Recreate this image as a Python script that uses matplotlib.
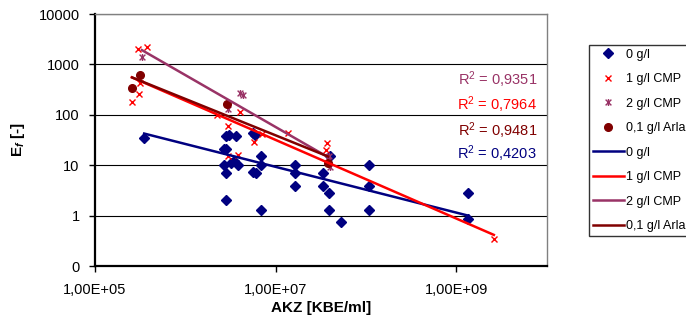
import numpy as np
import matplotlib.pyplot as plt
from matplotlib.path import Path
from matplotlib.ticker import FuncFormatter, NullLocator

plt.rcParams['font.family'] = ['Liberation Sans', 'DejaVu Sans']
plt.rcParams['mathtext.fontset'] = 'custom'
plt.rcParams['mathtext.rm'] = 'Liberation Sans'
plt.rcParams['mathtext.it'] = 'Liberation Sans:italic:bold'
plt.rcParams['mathtext.bf'] = 'Liberation Sans:bold'

# series: 0 g/l
x0 = [3.5e5, 2.8e6, 3.05e6, 3.64e6, 2.7e6, 2.8e6, 2.7e6, 2.8e6, 2.8e6, 3.2e6, 3.46e6,
      3.8e6, 5.6e6, 5.9e6, 5.6e6, 6.0e6, 6.9e6, 6.9e6, 6.9e6, 1.64e7, 1.64e7, 1.64e7,
      3.3e7, 3.3e7, 4.0e7, 3.9e7, 3.9e7, 5.3e7, 1.07e8, 1.07e8, 1.07e8, 1.35e9, 1.35e9]
y0 = [35, 38, 40, 38, 21, 21, 10, 7, 2, 11, 12,
      10, 43, 40, 7.4, 7, 15, 10, 1.3, 10, 7, 3.9,
      7, 3.9, 15, 2.75, 1.3, 0.76, 10, 3.9, 1.3, 2.75, 0.85]
# 1 g/l CMP
x1 = [2.55e5, 3.1e5, 2.97e5, 3.74e5, 3.15e5, 2.23e6, 3.0e6, 3.0e6, 3.87e6, 4.0e6,
      5.7e6, 7.0e6, 1.38e7, 3.7e7, 3.6e7, 2.6e9]
y1 = [178, 258, 2000, 2250, 435, 100, 60, 15, 16, 112,
      29, 42, 43, 27, 20, 0.34]
# 2 g/l CMP
x2 = [3.3e5, 2.94e6, 4.0e6, 4.3e6, 3.9e7, 4.0e7]
y2 = [1400, 128, 275, 245, 15, 9.3]
# 0,1 g/l Arla
x3 = [2.59e5, 3.15e5, 2.9e6, 3.8e7]
y3 = [340, 630, 162, 11]

names = ['0 g/l', '1 g/l CMP', '2 g/l CMP', '0,1 g/l Arla']
# power trendlines y = 10**loga * x**b
fit_loga = [4.145, 6.961, 8.974, 6.653]
fit_b = [-0.454, -0.78, -1.031, -0.723]
r2 = ['0,4203', '0,7964', '0,9351', '0,9481']

colors = ['#000080', '#FF0000', '#993366', '#800000']
star = Path([(-1, -1), (1, 1), (-1, 1), (1, -1), (0, -1.2), (0, 1.2)],
            [Path.MOVETO, Path.LINETO, Path.MOVETO, Path.LINETO, Path.MOVETO, Path.LINETO])

fig = plt.figure(figsize=(6.86, 3.25), dpi=100)
ax = fig.add_axes([95/686, 1-266/325, (546.7-95)/686, (266-14)/325])

xs = [x0, x1, x2, x3]
ys = [y0, y1, y2, y3]
mk = [dict(marker='D', ms=5, mec=colors[0]),
      dict(marker='x', ms=4.5, mew=1.0),
      dict(marker=star, ms=5, mew=1.0),
      dict(marker='o', ms=5.5, mec=colors[3])]
handles = []
for i in range(4):
    h, = ax.plot(xs[i], ys[i], ls='none', color=colors[i], label=names[i], zorder=3, **mk[i])
    handles.append(h)
for i in range(4):
    xx = np.geomspace(min(xs[i]), max(xs[i]), 50)
    h, = ax.plot(xx, 10**fit_loga[i] * xx**fit_b[i], color=colors[i], lw=1.8,
                 label=names[i], zorder=4)
    handles.append(h)

ax.set_xscale('log')
ax.set_yscale('log')
ax.set_xlim(1e5, 1e10)
ax.set_ylim(0.1, 10000)
ax.set_xticks([1e5, 1e7, 1e9])
ax.set_yticks([0.1, 1, 10, 100, 1000, 10000])
ax.xaxis.set_minor_locator(NullLocator())
ax.yaxis.set_minor_locator(NullLocator())
ax.xaxis.set_major_formatter(FuncFormatter(lambda v, p: f'{v:.2E}'.replace('.', ',')))
ax.yaxis.set_major_formatter(FuncFormatter(lambda v, p: f'{v:.0f}'))
ax.tick_params(axis='both', labelsize=10.5, length=4, width=1, direction='out')
ax.tick_params(axis='x', pad=8)
ax.tick_params(axis='y', pad=7)
ax.yaxis.grid(True, color='black', lw=0.8)
ax.set_axisbelow(True)
for s in ['top', 'right']:
    ax.spines[s].set_color('#808080')
    ax.spines[s].set_linewidth(1)
for s in ['left', 'bottom']:
    ax.spines[s].set_linewidth(1.6)

ax.set_xlabel('AKZ [KBE/ml]', fontsize=11, fontweight='bold', labelpad=3)
ax.set_ylabel('E$_{\\mathit{f}}$ [-]', fontsize=11, fontweight='bold', labelpad=8)

# R² labels (top to bottom: 2 g/l, 1 g/l, Arla, 0 g/l)
for i, ypx in zip([2, 1, 3, 0], [80, 105, 131, 154]):
    fig.text(537/686, 1-ypx/325, 'R$^2$ = ' + r2[i], color=colors[i], fontsize=10.5,
             ha='right', va='center')

leg = fig.legend(handles=handles, loc='upper left', bbox_to_anchor=(589/686, 1-45/325),
                 fontsize=9, frameon=True, fancybox=False, borderaxespad=0,
                 handlelength=2.5, handletextpad=0.2, labelspacing=1.0, borderpad=0.3)
leg.get_frame().set_edgecolor('black')
leg.get_frame().set_linewidth(1)

fig.savefig('out.png', dpi=100)
